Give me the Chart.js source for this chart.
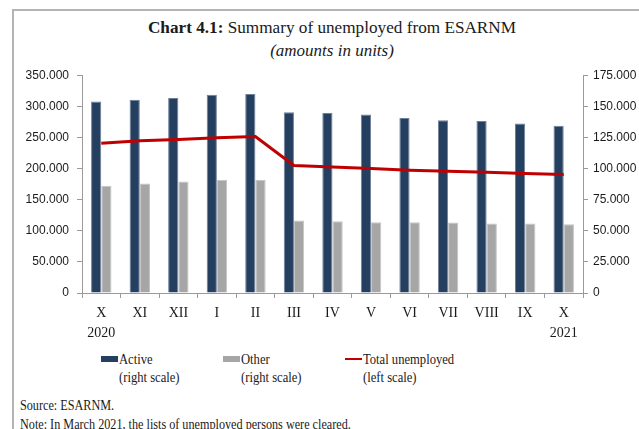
<!DOCTYPE html>
<html lang="en">
<head>
  <meta charset="UTF-8">
  <title>Chart 4.1: Summary of unemployed from ESARNM</title>
  <style>
    body {
      margin: 0;
      padding: 0;
      width: 639px;
      height: 429px;
      position: relative;
      overflow: hidden;
      background: #fff;
      font-family: "Liberation Serif", serif;
      color: #1a1a1a;
    }
    .frame {
      position: absolute;
      left: 12px;
      top: 9px;
      width: 700px;
      height: 500px;
      border-top: 2px solid #b4b4b4;
      border-left: 2px solid #b4b4b4;
    }
    .title {
      position: absolute;
      left: 0;
      width: 664px;
      top: 17px;
      text-align: center;
      font-size: 17.2px;
      line-height: 22px;
    }
    .subtitle {
      position: absolute;
      left: 0;
      width: 664px;
      top: 41px;
      text-align: center;
      font-size: 17px;
      font-style: italic;
      line-height: 20px;
    }
    .chart-container {
      position: absolute;
      left: 0;
      top: 60px;
      width: 639px;
      height: 290px;
    }
    .legend-item {
      position: absolute;
      top: 350px;
      font-size: 15px;
      line-height: 18px;
    }
    .narrow {
      display: inline-block;
      white-space: nowrap;
      transform: scaleX(0.84);
      transform-origin: left top;
    }
    .swatch {
      position: absolute;
      left: -18px;
      top: 6px;
      width: 17px;
      height: 6px;
    }
    .swatch.line {
      top: 8px;
      height: 2px;
    }
    .note {
      position: absolute;
      left: 20px;
      font-size: 14.5px;
      line-height: 18px;
    }
  </style>
</head>
<body>

<div class="frame"></div>
<div class="title"><b>Chart 4.1:</b> Summary of unemployed from ESARNM</div>
<div class="subtitle">(amounts in units)</div>

<div class="chart-container">
  <canvas id="unemployedChart"></canvas>
</div>

<div class="legend-item" style="left:119px"><span class="swatch" style="background:#243f60"></span><span class="narrow">Active<br>(right scale)</span></div>
<div class="legend-item" style="left:241px"><span class="swatch" style="background:#a6a6a6"></span><span class="narrow">Other<br>(right scale)</span></div>
<div class="legend-item" style="left:363px"><span class="swatch line" style="background:#c00000"></span><span class="narrow">Total unemployed<br>(left scale)</span></div>

<div class="note" style="top:396px"><span class="narrow">Source: ESARNM.</span></div>
<div class="note" style="top:415px"><span class="narrow">Note: In March 2021, the lists of unemployed persons were cleared.</span></div>

<script src="https://cdn.jsdelivr.net/npm/chart.js"></script>
<script>
  const categories = [['X', '2020'], 'XI', 'XII', 'I', 'II', 'III', 'IV', 'V', 'VI', 'VII', 'VIII', 'IX', ['X', '2021']];
  const active = [153900, 155300, 156600, 159300, 159800, 145200, 144700, 143500, 140700, 138900, 138100, 136100, 134300];
  const other = [86200, 88000, 89600, 91000, 91000, 58300, 57700, 56900, 56900, 56700, 55900, 55900, 55300];
  const totalUnemployed = [240700, 244700, 246700, 249500, 251500, 204800, 202400, 200000, 197300, 195700, 194100, 192000, 190400];

  const fmt = v => v === 0 ? '0' : v.toLocaleString('de-DE');
  const axisColor = '#9a9a9a';
  const tickFont = { family: 'Liberation Sans', size: 12 };

  const ctx = document.getElementById('unemployedChart').getContext('2d');
  new Chart(ctx, {
    type: 'bar',
    data: {
      labels: categories,
      datasets: [
        {
          type: 'line',
          label: 'Total unemployed',
          data: totalUnemployed,
          yAxisID: 'yLeft',
          borderColor: '#c00000',
          borderWidth: 3,
          pointRadius: 0,
          tension: 0,
          order: 0
        },
        {
          label: 'Active',
          data: active,
          yAxisID: 'yRight',
          backgroundColor: '#243f60',
          borderColor: '#6f819a',
          borderWidth: 1,
          categoryPercentage: 0.53,
          barPercentage: 1,
          order: 1
        },
        {
          label: 'Other',
          data: other,
          yAxisID: 'yRight',
          backgroundColor: '#a6a6a6',
          borderColor: '#c4c4c4',
          borderWidth: 1,
          categoryPercentage: 0.53,
          barPercentage: 1,
          order: 1
        }
      ]
    },
    options: {
      responsive: true,
      maintainAspectRatio: false,
      animation: false,
      layout: { padding: { top: 13, left: 0, right: 0, bottom: 0 } },
      plugins: {
        legend: { display: false },
        tooltip: { enabled: false }
      },
      scales: {
        x: {
          afterFit: s => { s.height = 57; },
          grid: {
            offset: true,
            drawOnChartArea: false,
            tickLength: 5,
            color: axisColor
          },
          border: { color: axisColor, width: 1 },
          ticks: {
            color: '#1a1a1a',
            padding: 6,
            maxRotation: 0,
            autoSkip: false,
            font: { family: 'Liberation Serif', size: 14, lineHeight: 1.4 }
          }
        },
        yLeft: {
          position: 'left',
          min: 0,
          max: 350000,
          afterFit: s => { s.width = 82; },
          grid: { drawOnChartArea: false, tickLength: 5, color: axisColor },
          border: { color: axisColor, width: 1 },
          ticks: {
            stepSize: 50000,
            color: '#1a1a1a',
            padding: 8,
            font: tickFont,
            callback: v => fmt(v)
          }
        },
        yRight: {
          position: 'right',
          min: 0,
          max: 175000,
          afterFit: s => { s.width = 56; },
          grid: { drawOnChartArea: false, tickLength: 5, color: axisColor },
          border: { color: axisColor, width: 1 },
          ticks: {
            stepSize: 25000,
            color: '#1a1a1a',
            padding: 5,
            font: tickFont,
            callback: v => fmt(v)
          }
        }
      }
    }
  });
</script>

</body>
</html>
